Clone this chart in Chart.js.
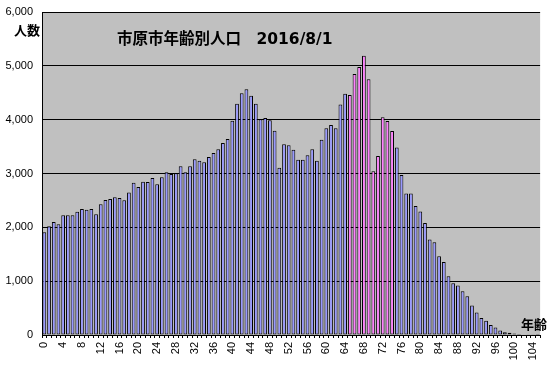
<!DOCTYPE html>
<html>
<head>
<meta charset="utf-8">
<script src="https://cdn.jsdelivr.net/npm/chart.js@4.4.0/dist/chart.umd.min.js"></script>
<style>
  html, body { margin: 0; padding: 0; background: #fff; }
  #wrap { width: 555px; height: 368px; }
</style>
</head>
<body>
<div id="wrap"><canvas id="c" width="555" height="368"></canvas></div>
<script>
// Ages 0..105
const ages = [];
for (let a = 0; a <= 105; a++) ages.push(a);

// Population by age
const population = [
  1910, 2020, 2100, 2055, 2225, 2225, 2225, 2290, 2340, 2325,
  2340, 2245, 2430, 2510, 2525, 2560, 2545, 2505, 2645, 2830,
  2750, 2845, 2840, 2915, 2800, 2930, 3025, 2990, 3005, 3135,
  3025, 3135, 3265, 3235, 3210, 3305, 3380, 3450, 3565, 3640,
  3980, 4295, 4490, 4565, 4445, 4295, 4010, 4030, 3990, 3795,
  3105, 3545, 3525, 3440, 3255, 3255, 3340, 3450, 3235, 3625,
  3840, 3900, 3840, 4280, 4480, 4460, 4850, 4980, 5185, 4750,
  3040, 3325, 4045, 3975, 3790, 3485, 2970, 2630, 2630, 2395,
  2295, 2080, 1775, 1725, 1465, 1355, 1090, 960, 920, 815,
  720, 550, 420, 315, 265, 185, 140, 85, 50, 42,
  28, 17, 10, 6, 3, 2
];

// Highlighted ages (pink)
const highlightAges = [65, 66, 67, 68, 69, 70, 71, 72, 73, 74];

const yTicks = [0, 1000, 2000, 3000, 4000, 5000, 6000];

const titleText = "市原市年齢別人口　2016/8/1";
const yAxisText = "人数";
const xAxisText = "年齢";

const barColors = ages.map(a => highlightAges.includes(a) ? "#ff80ff" : "#9999ff");

const bgPlugin = {
  id: "plotBg",
  beforeDraw(chart) {
    const { ctx, chartArea: ca } = chart;
    ctx.save();
    ctx.fillStyle = "#c0c0c0";
    ctx.fillRect(ca.left, ca.top, ca.right - ca.left, ca.bottom - ca.top);
    ctx.restore();
  }
};

const textPlugin = {
  id: "texts",
  afterDraw(chart) {
    const { ctx } = chart;
    ctx.save();
    ctx.fillStyle = "#000";
    ctx.textBaseline = "alphabetic";
    ctx.textAlign = "left";
    ctx.font = "bold 15.5px 'DejaVu Sans', 'Noto Sans CJK JP', sans-serif";
    ctx.fillText(titleText, 117, 44);
    ctx.font = "bold 13px 'Noto Sans CJK JP', sans-serif";
    ctx.fillText(yAxisText, 14, 35);
    ctx.fillText(xAxisText, 521, 329);
    ctx.restore();
  }
};

new Chart(document.getElementById("c"), {
  type: "bar",
  data: {
    labels: ages.map(String),
    datasets: [{
      data: population,
      backgroundColor: barColors,
      borderColor: "#000",
      borderWidth: 1,
      borderSkipped: false,
      barPercentage: 0.8,
      categoryPercentage: 1.0
    }]
  },
  options: {
    responsive: false,
    animation: false,
    devicePixelRatio: 1,
    layout: { padding: { top: 12, right: 6, left: 0, bottom: 0 } },
    plugins: {
      legend: { display: false },
      title: { display: false },
      tooltip: { enabled: false }
    },
    scales: {
      x: {
        type: "category",
        offset: true,
        grid: { display: true, drawOnChartArea: false, drawTicks: true, tickLength: 3, color: "#000" },
        border: { display: true, color: "#000", width: 1 },
        ticks: {
          autoSkip: false,
          maxRotation: 90,
          minRotation: 90,
          padding: 4,
          color: "#000",
          font: { family: "'Liberation Sans', Arial, sans-serif", size: 11 },
          callback: function (v, i) { return (ages[i] % 4 === 0) ? String(ages[i]) : ""; }
        },
        afterFit(scale) { scale.height = 33; }
      },
      y: {
        min: 0,
        max: 6000,
        afterBuildTicks(scale) { scale.ticks = yTicks.map(v => ({ value: v })); },
        grid: { color: "#000", lineWidth: 1, drawTicks: false },
        border: { display: true, color: "#000", width: 1 },
        ticks: {
          padding: 9,
          color: "#000",
          font: { family: "'Liberation Sans', Arial, sans-serif", size: 11 },
          callback: v => v.toLocaleString("en-US")
        },
        afterFit(scale) { scale.width = 42; }
      }
    }
  },
  plugins: [bgPlugin, textPlugin,
    { id: "fixArea",
      afterLayout(chart) {
        // keep plot area aligned with reference: top 12, bottom 335
        const ca = chart.chartArea;
        const y = chart.scales.y;
        if (ca.top !== 12) {
          ca.top = 12; y.top = 12; y.height = ca.bottom - 12;
          y.configure();
        }
      }
    }]
});
</script>
</body>
</html>
